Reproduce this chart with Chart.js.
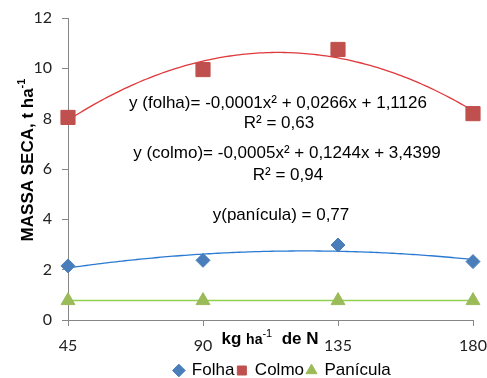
<!DOCTYPE html>
<html>
<head>
<meta charset="utf-8">
<script src="https://cdn.jsdelivr.net/npm/chart.js@4.4.0/dist/chart.umd.min.js"></script>
<style>
  html, body { margin: 0; padding: 0; background: #fff; }
  #wrap { width: 487px; height: 378px; }
</style>
</head>
<body>
<div id="wrap"><canvas id="massaChart"></canvas></div>
<script>
// doses de N (kg/ha) and dry mass (t/ha)
const doses = [45, 90, 135, 180];
const folha = [2.15, 2.37, 2.98, 2.32];
const colmo = [8.05, 9.95, 10.75, 8.2];
const panicula = [0.77, 0.77, 0.77, 0.77];
const xTicks = [45, 90, 135, 180];
const yTicks = [0, 2, 4, 6, 8, 10, 12];
const seriesNames = ['Folha', 'Colmo', 'Panícula'];
const equationTexts = [
  'y (folha)= -0,0001x² + 0,0266x + 1,1126',
  'R² = 0,63',
  'y (colmo)= -0,0005x² + 0,1244x + 3,4399',
  'R² = 0,94',
  'y(panícula) = 0,77'
];

const LEGEND_FONT = 17;
const LEGEND_PAD = 3;
const AXIS_GREY = '#868686';

// least squares polynomial fit, same thing the spreadsheet trendline does
function polyFit(xs, ys, deg) {
  const n = deg + 1;
  const A = [], b = [];
  for (let i = 0; i < n; i++) {
    A.push([]);
    for (let j = 0; j < n; j++) A[i].push(xs.reduce((s, x) => s + Math.pow(x, i + j), 0));
    b.push(xs.reduce((s, x, k) => s + ys[k] * Math.pow(x, i), 0));
  }
  for (let c = 0; c < n; c++) {
    for (let r = c + 1; r < n; r++) {
      const f = A[r][c] / A[c][c];
      for (let k = c; k < n; k++) A[r][k] -= f * A[c][k];
      b[r] -= f * b[c];
    }
  }
  const coef = new Array(n).fill(0);
  for (let r = n - 1; r >= 0; r--) {
    let s = b[r];
    for (let k = r + 1; k < n; k++) s -= A[r][k] * coef[k];
    coef[r] = s / A[r][r];
  }
  return coef;
}

function trend(ys, deg) {
  const coef = polyFit(doses, ys, deg);
  const pts = [];
  for (let x = doses[0]; x <= doses[doses.length - 1]; x += 1) {
    pts.push({ x, y: coef.reduce((s, c, i) => s + c * Math.pow(x, i), 0) });
  }
  return pts;
}

const toPoints = ys => doses.map((x, i) => ({ x, y: ys[i] }));

function drawRich(ctx, parts, cx, cy, rot) {
  ctx.save();
  ctx.translate(cx, cy);
  ctx.rotate(rot);
  let total = 0;
  parts.forEach(p => { ctx.font = p.font; p.w = ctx.measureText(p.t).width; total += p.w; });
  let x = -total / 2;
  ctx.textAlign = 'left';
  ctx.textBaseline = 'alphabetic';
  parts.forEach(p => { ctx.font = p.font; ctx.fillText(p.t, x, p.dy); x += p.w; });
  ctx.restore();
}

const notesPlugin = {
  id: 'notes',
  afterLayout(chart) {
    // nudge legend a bit to the right like in the original
    chart.legend.left += 12;
    chart.legend.right += 12;
  },
  afterDraw(chart) {
    const ctx = chart.ctx;
    ctx.save();
    ctx.fillStyle = '#000';
    ctx.font = '17px "Liberation Sans", Arial, sans-serif';
    ctx.textAlign = 'center';
    ctx.textBaseline = 'middle';
    const pos = [[278, 103], [279, 123], [287, 153], [288, 175], [281, 215]];
    equationTexts.forEach((t, i) => ctx.fillText(t, pos[i][0], pos[i][1]));

    const bold = s => 'bold ' + s + 'px "Liberation Sans", Arial, sans-serif';
    drawRich(ctx, [
      { t: 'MASSA SECA, t ha', font: bold(17), dy: 6 },
      { t: '-1', font: bold(11), dy: -2 }
    ], 27, 160, -Math.PI / 2);
    drawRich(ctx, [
      { t: 'kg ', font: bold(17), dy: 6 },
      { t: 'ha', font: bold(14), dy: 6 },
      { t: '-1', font: '11px "Liberation Sans", Arial, sans-serif', dy: -1 },
      { t: '  de N', font: bold(17), dy: 6 }
    ], 270, 338, 0);
    ctx.restore();
  }
};

const ctx = document.getElementById('massaChart').getContext('2d');

const massaChart = new Chart(ctx, {
  type: 'scatter',
  data: {
    datasets: [
      {
        label: seriesNames[0],
        data: toPoints(folha),
        pointStyle: 'rectRot',
        pointRadius: 7,
        backgroundColor: '#4a7ebb',
        borderColor: '#4a7ebb',
        clip: false,
        order: 0
      },
      {
        label: seriesNames[1],
        data: toPoints(colmo),
        pointStyle: 'rect',
        pointRadius: 10,
        backgroundColor: '#c0504d',
        borderColor: '#c0504d',
        clip: false,
        order: 0
      },
      {
        label: seriesNames[2],
        data: toPoints(panicula),
        pointStyle: 'triangle',
        pointRadius: 8,
        backgroundColor: '#9bbb59',
        borderColor: '#9bbb59',
        clip: false,
        order: 0
      },
      {
        label: 'trend folha',
        data: trend(folha, 2),
        showLine: true,
        pointRadius: 0,
        borderColor: '#2a7ad2',
        borderWidth: 1.3,
        order: 1
      },
      {
        label: 'trend colmo',
        data: trend(colmo, 2),
        showLine: true,
        pointRadius: 0,
        borderColor: '#e0383b',
        borderWidth: 1.3,
        order: 1
      },
      {
        label: 'trend panicula',
        data: trend(panicula, 0),
        showLine: true,
        pointRadius: 0,
        borderColor: '#92d050',
        borderWidth: 1.5,
        order: 1
      }
    ]
  },
  options: {
    responsive: true,
    maintainAspectRatio: false,
    animation: false,
    layout: { padding: { left: 0, right: 14, top: 18, bottom: -11 } },
    scales: {
      x: {
        type: 'linear',
        min: 45,
        max: 180,
        afterBuildTicks: s => { s.ticks = xTicks.map(v => ({ value: v })); },
        afterFit: s => {
          s.height = 389 - 320 - (LEGEND_FONT + LEGEND_PAD + 10);
          s.paddingLeft = 0;
          s.paddingRight = 0;
        },
        border: { color: AXIS_GREY, width: 1 },
        grid: { drawOnChartArea: false, color: AXIS_GREY, tickLength: 6 },
        ticks: { color: '#222', padding: 10, font: { family: 'Lato', size: 16 } }
      },
      y: {
        min: 0,
        max: 12,
        afterBuildTicks: s => { s.ticks = yTicks.map(v => ({ value: v })); },
        afterFit: s => { s.width = 68; s.paddingTop = 0; s.paddingBottom = 0; },
        border: { color: AXIS_GREY, width: 1 },
        grid: { drawOnChartArea: false, color: AXIS_GREY, tickLength: 6 },
        ticks: { color: '#222', padding: 10, font: { family: 'Lato', size: 16 } }
      }
    },
    plugins: {
      legend: {
        position: 'bottom',
        fullSize: false,
        labels: {
          usePointStyle: true,
          boxWidth: 9,
          boxHeight: 9,
          padding: LEGEND_PAD,
          color: '#000',
          font: { family: 'Liberation Sans', size: LEGEND_FONT },
          filter: item => item.datasetIndex < 3
        }
      },
      tooltip: { enabled: false }
    }
  },
  plugins: [notesPlugin]
});
</script>
</body>
</html>
